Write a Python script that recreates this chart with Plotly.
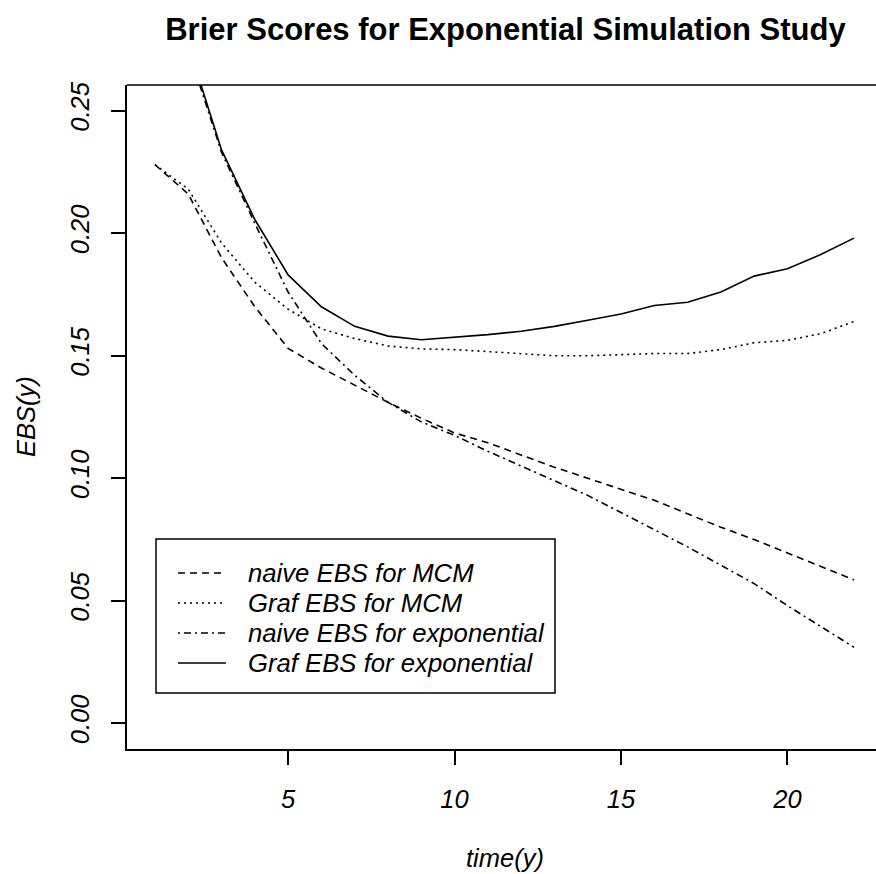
import plotly.graph_objects as go

time_pts = list(range(1, 23))

naive_mcm = [0.228, 0.216, 0.190, 0.170, 0.153, 0.145, 0.138, 0.131, 0.1245, 0.1185,
             0.1145, 0.1095, 0.1045, 0.100, 0.0955, 0.091, 0.0855, 0.080, 0.075, 0.0695,
             0.064, 0.0585]
graf_mcm = [0.228, 0.218, 0.196, 0.180, 0.169, 0.161, 0.157, 0.154, 0.1528, 0.1525,
            0.1517, 0.151, 0.150, 0.150, 0.1505, 0.1509, 0.1509, 0.1525, 0.1553, 0.1563,
            0.159, 0.164]
naive_exp = [0.33, 0.275, 0.233, 0.204, 0.176, 0.155, 0.142, 0.131, 0.123, 0.1175,
             0.111, 0.105, 0.099, 0.093, 0.086, 0.079, 0.072, 0.0645, 0.057, 0.048,
             0.0395, 0.031]
graf_exp = [0.34, 0.277, 0.234, 0.2056, 0.183, 0.170, 0.162, 0.158, 0.1565, 0.1575,
            0.1586, 0.160, 0.162, 0.1645, 0.167, 0.1705, 0.1718, 0.176, 0.1825, 0.1855,
            0.1913, 0.198]

series_names = ["naive EBS for MCM", "Graf EBS for MCM",
                "naive EBS for exponential", "Graf EBS for exponential"]
series_values = [naive_mcm, graf_mcm, naive_exp, graf_exp]
series_dash = ["7px,5px", "2px,4px", "2px,4px,7px,4px", "solid"]

x_ticks = [5, 10, 15, 20]
y_ticks = [0.00, 0.05, 0.10, 0.15, 0.20, 0.25]

FONT = "Liberation Sans, Arial, sans-serif"
FS = 25.5

# plot-area geometry (px)
L, R, T, B = 127, 876, 85, 749
PW, PH = R - L, B - T


def px(x):
    return (x - L) / PW


def py(y):
    return (B - y) / PH


fig = go.Figure()
for name, vals, dash in zip(series_names, series_values, series_dash):
    fig.add_trace(go.Scatter(x=time_pts, y=vals, mode="lines", name=name,
                             showlegend=False,
                             line=dict(color="black", width=1.6, dash=dash)))

fig.update_layout(
    width=876, height=874,
    margin=dict(l=L, r=876 - R, t=T, b=874 - B),
    paper_bgcolor="white", plot_bgcolor="white",
    title=dict(text="<b>Brier Scores for Exponential Simulation Study</b>",
               x=0.577, xanchor="center", y=0.967, yanchor="middle",
               font=dict(family=FONT, size=31, color="black")),
)

fig.update_xaxes(range=[0.16, 22.66], showgrid=False, zeroline=False,
                 showline=True, linecolor="black", linewidth=1.5,
                 tickmode="array", tickvals=x_ticks, ticktext=[str(v) for v in x_ticks],
                 ticks="outside", ticklen=14, tickwidth=1.5, tickcolor="black",
                 tickfont=dict(family=FONT, size=FS, color="black", style="italic"),
                 ticklabelstandoff=13)
fig.update_yaxes(range=[-0.0105, 0.2605], showgrid=False, zeroline=False,
                 showline=True, linecolor="black", linewidth=1.5,
                 tickmode="array", tickvals=y_ticks, ticktext=[f"{v:.2f}" for v in y_ticks],
                 ticks="outside", ticklen=14, tickwidth=1.5, tickcolor="black",
                 tickangle=-90,
                 tickfont=dict(family=FONT, size=FS, color="black", style="italic"),
                 ticklabelstandoff=12)

# top border of the plot box
fig.add_shape(type="line", xref="paper", yref="paper", x0=0, x1=1, y0=1, y1=1,
              line=dict(color="black", width=1.5))

# legend box (R-style)
fig.add_shape(type="rect", xref="paper", yref="paper",
              x0=px(156), x1=px(555), y0=py(693), y1=py(539),
              line=dict(color="black", width=1.5), fillcolor="white", layer="above")
for i, (name, dash) in enumerate(zip(series_names, series_dash)):
    yrow = 573 + 30 * i
    fig.add_shape(type="line", xref="paper", yref="paper",
                  x0=px(178), x1=px(226), y0=py(yrow), y1=py(yrow),
                  line=dict(color="black", width=1.6, dash=dash), layer="above")
    fig.add_annotation(text=f"<i>{name}</i>", xref="paper", yref="paper",
                       x=px(246), y=py(yrow), showarrow=False,
                       xanchor="left", yanchor="middle",
                       font=dict(family=FONT, size=25.7, color="black"))

fig.add_annotation(text="<i>time(y)</i>", xref="paper", yref="paper",
                   x=px(505), y=py(858), showarrow=False,
                   xanchor="center", yanchor="middle",
                   font=dict(family=FONT, size=FS, color="black"))
fig.add_annotation(text="<i>EBS(y)</i>", xref="paper", yref="paper",
                   x=px(26), y=0.5, showarrow=False, textangle=-90,
                   xanchor="center", yanchor="middle",
                   font=dict(family=FONT, size=FS, color="black"))

fig.write_html("out.html")
